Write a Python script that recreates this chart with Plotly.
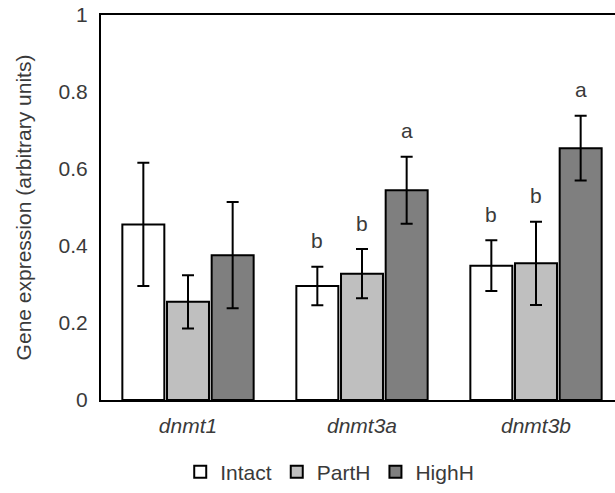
import plotly.graph_objects as go

genes = ["dnmt1", "dnmt3a", "dnmt3b"]
groups = ["Intact", "PartH", "HighH"]
means = {
    "Intact": [0.456, 0.296, 0.349],
    "PartH": [0.255, 0.328, 0.355],
    "HighH": [0.376, 0.545, 0.654],
}
errors = {
    "Intact": [0.160, 0.050, 0.066],
    "PartH": [0.069, 0.064, 0.108],
    "HighH": [0.138, 0.087, 0.084],
}
letters = {
    "Intact": ["", "b", "b"],
    "PartH": ["", "b", "b"],
    "HighH": ["", "a", "a"],
}
colors = {"Intact": "#ffffff", "PartH": "#bfbfbf", "HighH": "#7f7f7f"}
y_ticks = [0, 0.2, 0.4, 0.6, 0.8, 1]

FONT = "Liberation Sans, Arial, sans-serif"
TXT = "#3a3a3a"
BARGAP = 0.23
BARGROUPGAP = 0.06

fig = go.Figure()
x_idx = list(range(len(genes)))
for g in groups:
    fig.add_trace(go.Bar(
        name=g, x=x_idx, y=means[g],
        marker=dict(color=colors[g], line=dict(color="black", width=2)),
        error_y=dict(type="data", array=errors[g], color="black", thickness=2, width=6),
    ))

slot = (1 - BARGAP) / len(groups)
for gi, g in enumerate(groups):
    off = (gi - (len(groups) - 1) / 2) * slot
    for i, gene in enumerate(genes):
        if letters[g][i]:
            fig.add_annotation(
                x=i + off, y=means[g][i] + errors[g][i], text=letters[g][i],
                showarrow=False, yanchor="middle", yshift=26,
                font=dict(family=FONT, size=21, color=TXT),
            )

fig.update_layout(
    width=615, height=493,
    margin=dict(l=101, r=0, t=15, b=93, autoexpand=False),
    paper_bgcolor="white", plot_bgcolor="white",
    barmode="group", bargap=BARGAP, bargroupgap=BARGROUPGAP,
    font=dict(family=FONT, size=21, color=TXT),
    showlegend=True,
    legend=dict(orientation="h", x=0.445, xanchor="center", y=-0.187, yanchor="middle",
                font=dict(family=FONT, size=21, color=TXT), traceorder="normal",
                itemwidth=30, tracegroupgap=0),
    xaxis=dict(
        range=[-0.5, 2.454], tickmode="array", tickvals=x_idx, ticktext=genes,
        tickfont=dict(family=FONT, size=21, color=TXT, style="italic"),
        showline=True, linecolor="black", linewidth=2, mirror=True,
        showgrid=False, ticks="", zeroline=False, automargin=False,
        ticklabelstandoff=6,
    ),
    yaxis=dict(
        range=[0, 1], tickvals=y_ticks,
        showline=True, linecolor="black", linewidth=2, mirror=False,
        showgrid=False, ticks="", zeroline=False, ticklabelstandoff=7, automargin=False,
        title=dict(text="Gene expression (arbitrary units)", standoff=21,
                   font=dict(family=FONT, size=21, color=TXT)),
    ),
)

fig.write_html("out.html", config={"displayModeBar": False},
               post_script="document.body.style.margin='0px';")
